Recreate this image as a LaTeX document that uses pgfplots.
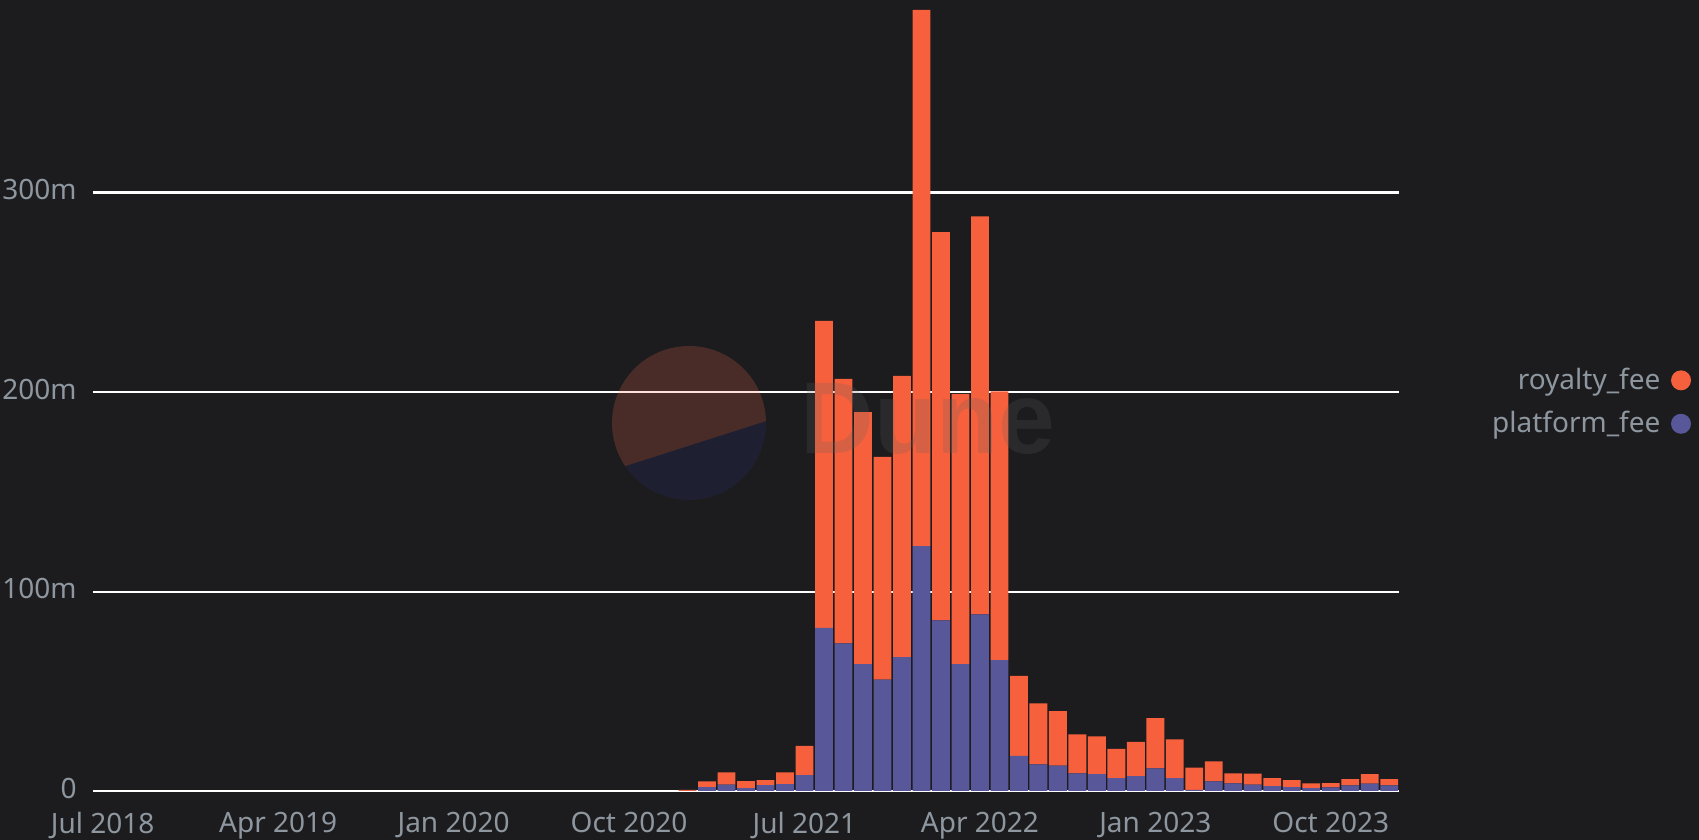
\documentclass[border=0pt]{standalone}
\usepackage{pgfplots}
\usepackage{pgfplotstable}
\usepackage{fontspec}
\pgfplotsset{compat=1.18}
\setmainfont{Noto Sans}
\newfontfamily\dunefont{Liberation Sans}
\definecolor{bg}{HTML}{1C1C1E}
\definecolor{royal}{HTML}{F6603C}
\definecolor{plat}{HTML}{57579A}
\definecolor{txt}{HTML}{8E979F}
\pgfplotstableread{
m platform royalty
30 0.1 0.4
31 2.0 2.85
32 3.2 6.2
33 1.5 3.5
34 3.0 2.5
35 3.5 5.9
36 8.0 14.6
37 81.8 154.0
38 74.1 132.6
39 63.7 126.4
40 55.9 111.7
41 67.2 141.0
42 122.9 268.9
43 85.6 194.8
44 63.7 135.5
45 88.6 199.7
46 65.7 134.8
47 17.6 40.1
48 13.4 30.6
49 12.7 27.4
50 8.9 19.5
51 8.4 19.0
52 6.5 14.6
53 7.5 17.2
54 11.4 25.2
55 6.5 19.4
56 0.5 11.2
57 4.8 10.1
58 3.8 5.1
59 3.2 5.5
60 2.5 3.9
61 2.0 3.5
62 1.5 2.3
63 1.8 2.2
64 2.8 3.1
65 3.7 4.7
66 2.8 3.1
}\fees
\begin{document}
\begin{tikzpicture}[x=0.5pt,y=0.5pt]
\useasboundingbox (0,0) rectangle (1699,840);
\fill[bg] (0,0) rectangle (1699,840);
\begin{axis}[
  at={(46.5pt,24.5pt)}, anchor=south west,
  scale only axis, width=653pt, height=390.5pt,
  xmin=-0.5, xmax=66.5, ymin=0, ymax=391.8,
  clip=false,
  ybar stacked, bar width=8.9pt,
  axis line style={draw=none},
  major tick length=0pt,
  tick style={draw=none},
  xtick={0,9,18,27,36,45,54,63},
  xticklabels={Jul 2018,Apr 2019,Jan 2020,Oct 2020,Jul 2021,Apr 2022,Jan 2023,Oct 2023},
  ytick={0,100,200},
  yticklabels={0,100m,200m},
  extra y ticks={300},
  extra y tick labels={300m},
  extra y tick style={grid style={white,line width=1.5pt}},
  ymajorgrids,
  grid style={white,line width=1pt},
  tick label style={font=\fontsize{14}{15}\selectfont,text=txt,inner sep=0pt},
  yticklabel style={xshift=-8pt,yshift=1.5pt},
  xticklabel style={yshift=-10.5pt},
  legend plot pos=right,
  reverse legend,
  legend cell align=right,
  legend style={at={(1.2236,0.498)},anchor=east,draw=none,fill=none,inner sep=0pt,outer sep=0pt,
    font=\fontsize{14}{15}\selectfont,text=txt,row sep=5.5pt},
]
\addplot[fill=plat,draw=none,legend image code/.code={\path (0,0); \fill[plat] (8.3pt,0) circle (5pt);}] table[x=m,y=platform]{\fees};
\addlegendentry{platform\_fee}
\addplot[fill=royal,draw=none,legend image code/.code={\path (0,0); \fill[royal] (8.3pt,0) circle (5pt);}] table[x=m,y=royalty]{\fees};
\addlegendentry{royalty\_fee}
\end{axis}
\begin{scope}
\clip (689,417) circle (77);
\fill[fill={rgb,255:red,255;green,108;blue,80},opacity=0.2] (560,353) -- (860,449) -- (860,540) -- (560,540) -- cycle;
\fill[fill={rgb,255:red,45;green,45;blue,130},opacity=0.2] (560,353) -- (860,449) -- (860,300) -- (560,300) -- cycle;
\end{scope}
\node[anchor=west,inner sep=0pt,opacity=0.21,text={rgb,255:red,95;green,98;blue,100},font=\dunefont\bfseries\fontsize{51}{51}\selectfont] at (800,421) {Dune};
\end{tikzpicture}
\end{document}
